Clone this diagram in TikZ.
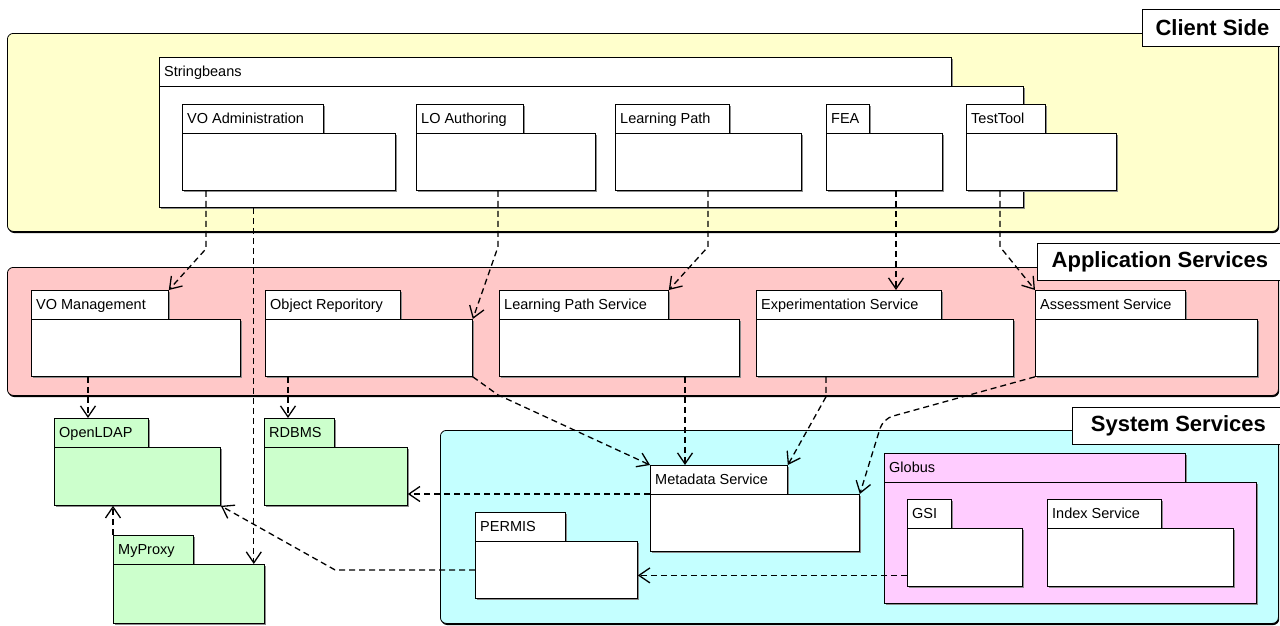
\documentclass[tikz,border=0pt]{standalone}
\usepackage{fontspec}
\setmainfont{Liberation Sans}
\usetikzlibrary{positioning, shadows, arrows.meta}

\definecolor{clientbg}{RGB}{255,255,204}
\definecolor{appbg}{RGB}{255,200,200}
\definecolor{sysbg}{RGB}{196,255,255}
\definecolor{globusbg}{RGB}{255,204,255}
\definecolor{extbg}{RGB}{204,255,204}

\tikzset{
	region/.style = {draw, anchor = north west, rounded corners = 6pt, line width = 0.8pt,
		drop shadow = {shadow xshift = 0.8pt, shadow yshift = -1.6pt, fill = black, opacity = 1}},
	regiontag/.style = {draw, fill = white, anchor = north west, inner xsep = 10pt, inner ysep = 0pt,
		minimum height = 37pt, line width = 0.8pt, font = \fontsize{22}{26}\selectfont\bfseries},
	pkgtab/.style = {draw, anchor = north west, inner sep = 0pt, minimum height = 29pt, line width = 0.8pt,
		drop shadow = {shadow xshift = 1.5pt, shadow yshift = -1.5pt, fill = black!45, opacity = 1}},
	pkgbody/.style = {pkgtab},
	pkgtext/.style = {inner sep = 0pt, text height = 10.5pt, text depth = 0.5pt, font = \fontsize{14.5}{16}\selectfont},
	dep/.style = {line width = 1.3pt, dash pattern = on 6pt off 4pt, -{Straight Barb[length = 11pt, width = 15pt]}}
}

% package: name, label, x, y, tab width, body width, body height, fill
\newcommand{\package}[8]{
	\node [pkgtab, fill = #8, minimum width = #5pt] (#1-tab) at (#3, #4) {};
	\node [pkgbody, fill = #8, minimum width = #6pt, minimum height = #7pt] (#1) at (#3, {#4 + 29}) {};
	\node [pkgtext, right = 5pt of #1-tab.west] (#1-text) {#2};
}

\begin{document}
\begin{tikzpicture}[x = 1pt, y = -1pt]

	\useasboundingbox (0, 0) rectangle (1280, 625);

	% Regions

	\node [region, fill = clientbg, minimum width = 1271pt, minimum height = 198pt] (client) at (7, 33) {};
	\node [region, fill = appbg, minimum width = 1271pt, minimum height = 128pt] (appsvc) at (7, 267) {};
	\node [region, fill = sysbg, minimum width = 838pt, minimum height = 193pt] (syssvc) at (440, 430) {};

	\node [regiontag, minimum width = 140pt] (client-tag) at (1142, 9) {Client Side};
	\node [regiontag, minimum width = 245pt] (appsvc-tag) at (1037, 243) {Application Services};
	\node [regiontag, minimum width = 212pt] (syssvc-tag) at (1072, 407) {System Services};

	% Client side packages

	\package{stringbeans}{Stringbeans}{159}{57}{792}{864}{121}{white}
	\package{voadmin}{VO Administration}{182}{104}{141}{213}{57}{white}
	\package{loauth}{LO Authoring}{416}{104}{107}{179}{57}{white}
	\package{lpath}{Learning Path}{615}{104}{114}{186}{57}{white}
	\package{fea}{FEA}{826}{104}{43}{116}{57}{white}
	\package{testtool}{TestTool}{966}{104}{79}{150}{57}{white}

	% Application services

	\package{vomgmt}{VO Management}{31}{290}{137}{209}{57}{white}
	\package{objrep}{Object Reporitory}{265}{290}{135}{207}{57}{white}
	\package{lpserv}{Learning Path Service}{499}{290}{169}{240}{57}{white}
	\package{expserv}{Experimentation Service}{756}{290}{185}{257}{57}{white}
	\package{assess}{Assessment Service}{1035}{290}{150}{222}{57}{white}

	% Outside packages

	\package{openldap}{OpenLDAP}{54}{418}{94}{166}{58}{extbg}
	\package{rdbms}{RDBMS}{264}{418}{70}{143}{58}{extbg}
	\package{myproxy}{MyProxy}{113}{535}{80}{151}{59}{extbg}

	% System services

	\package{metadata}{Metadata Service}{650}{465}{137}{209}{57}{white}
	\package{permis}{PERMIS}{475}{512}{90}{162}{57}{white}
	\package{globus}{Globus}{884}{453}{301}{372}{121}{globusbg}
	\package{gsi}{GSI}{907}{499}{44}{115}{58}{white}
	\package{index}{Index Service}{1047}{499}{114}{186}{58}{white}

	% Client side to application services

	\draw [dep] ([xshift = 24pt] voadmin.south west) -- ++(0, 58) -- (vomgmt-tab.north east);
	\coordinate (myproxy-in) at ([xshift = -11pt] myproxy.north east);
	\draw [dep] (stringbeans.south -| myproxy-in) -- (myproxy-in);
	\draw [dep] ([xshift = 82pt] loauth.south west) -- ++(0, 56) -- (objrep.north east);
	\draw [dep] ([xshift = 93pt] lpath.south west) -- ++(0, 56) -- (lpserv-tab.north east);
	\draw [dep] ([xshift = 70pt] fea.south west) coordinate (fea-out) -- (fea-out |- expserv-tab.north);
	\draw [dep] ([xshift = 34pt] testtool.south west) -- ++(0, 56) -- (assess-tab.north west);

	% Application services to system services

	\draw [dep] ([xshift = 57pt] vomgmt.south west) coordinate (vomgmt-out) -- (vomgmt-out |- openldap-tab.north);
	\draw [dep] ([xshift = 23pt] objrep.south west) coordinate (objrep-out) -- (objrep-out |- rdbms-tab.north);
	\draw [dep] (objrep.south east) -- ++(25, 18) -- (metadata-tab.north west);
	\draw [dep] ([xshift = 186pt] lpserv.south west) coordinate (lpserv-out) -- (lpserv-out |- metadata-tab.north);
	\draw [dep] ([xshift = 70pt] expserv.south west) -- ++(0, 20) -- (metadata-tab.north east);
	\draw [dep, rounded corners = 10pt] (assess.south west) -- ++(-152, 42) -- (metadata.north east);

	% Inside system services

	\draw [dep] (metadata.north west) -- (metadata.north west -| rdbms.east);
	\draw [dep] ([yshift = -18pt] gsi.west) coordinate (gsi-out) -- (gsi-out -| permis.east);
	\draw [dep] (permis.west) -- ++(-140, 0) -- (openldap.south east);
	\draw [dep] (myproxy-tab.north west) -- (myproxy-tab.north west |- openldap.south);

\end{tikzpicture}
\end{document}
